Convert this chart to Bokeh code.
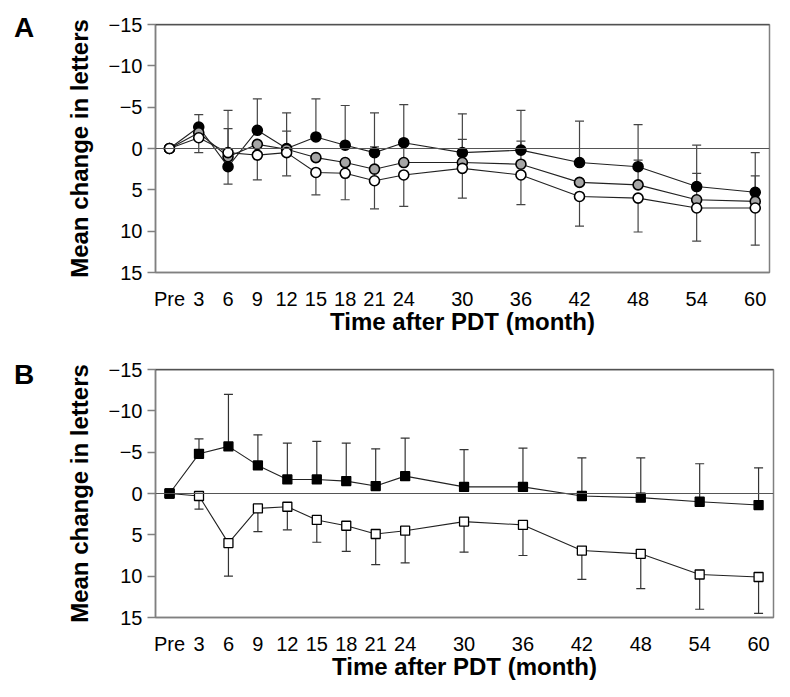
from bokeh.plotting import figure
from bokeh.layouts import column, row
from bokeh.models import FixedTicker, Span, Whisker, TeeHead, ColumnDataSource, Range1d, Div
from bokeh.embed import file_html
from bokeh.resources import INLINE

# ---------------- data ----------------
months = [0, 3, 6, 9, 12, 15, 18, 21, 24, 30, 36, 42, 48, 54, 60]
month_labels = ["Pre", "3", "6", "9", "12", "15", "18", "21", "24",
                "30", "36", "42", "48", "54", "60"]
y_ticks = [-15, -10, -5, 0, 5, 10, 15]
y_tick_labels = ["\u221215", "\u221210", "\u22125", "0", "5", "10", "15"]

# Panel A (three groups: black, grey, white circles)
A_black = [0, -2.6, 2.2, -2.2, 0.0, -1.4, -0.4, 0.5, -0.7, 0.5, 0.2, 1.7, 2.2, 4.6, 5.3]
A_grey = [0, -1.9, 1.0, -0.5, 0.1, 1.1, 1.7, 2.5, 1.7, 1.7, 1.9, 4.1, 4.4, 6.2, 6.4]
A_white = [0, -1.3, 0.5, 0.8, 0.5, 2.9, 3.0, 3.9, 3.2, 2.4, 3.2, 5.8, 6.0, 7.2, 7.2]
A_black_err = [None, -4.1, -4.6, -6.0, -4.3, -6.0, -5.2, -4.3, -5.3, -4.2, -4.6, -3.3, -2.9, -0.4, 0.5]
A_grey_err = [None, None, -2.4, None, -2.1, None, None, -0.2, -1.0, -1.1, -0.9, None, 1.4, 3.0, 3.3]
A_white_err = [None, 0.5, 4.3, 3.8, 3.3, 5.6, 6.2, 7.3, 7.0, 6.0, 6.8, 9.4, 10.1, 11.2, 11.7]

# Panel B (two groups: black and white squares)
B_black = [0, -4.8, -5.7, -3.4, -1.7, -1.7, -1.5, -0.9, -2.1, -0.8, -0.8, 0.3, 0.5, 1.0, 1.4]
B_black_err = [None, -6.6, -12.0, -7.1, -6.1, -6.3, -6.1, -5.4, -6.7, -5.3, -5.5, -4.3, -4.3, -3.6, -3.1]
B_white = [0, 0.3, 6.0, 1.8, 1.6, 3.2, 3.9, 4.9, 4.5, 3.4, 3.8, 6.9, 7.3, 9.8, 10.1]
B_white_err = [None, 1.9, 10.0, 4.6, 4.4, 5.9, 7.0, 8.6, 8.4, 7.1, 7.5, 10.4, 11.5, 14.0, 14.5]

FONT = "Liberation Sans"
AX_GREY = "#808080"
DIV_W = 40
PAD_LEFT = 9


def make_panel(frame_w, x_end, b_top, b_bottom, b_right):
    p = figure(frame_width=frame_w, frame_height=248,
               min_border_left=154 - DIV_W, min_border_right=b_right,
               min_border_top=b_top, min_border_bottom=b_bottom,
               x_range=Range1d(-1.43, x_end), y_range=Range1d(15, -15),
               output_backend="svg", toolbar_location=None,
               background_fill_color="white", border_fill_color="white")
    p.grid.visible = False
    p.outline_line_color = AX_GREY
    p.outline_line_width = 1.5

    xa = p.xaxis[0]
    xa.ticker = FixedTicker(ticks=months)
    xa.major_label_overrides = {m: l for m, l in zip(months, month_labels)}
    xa.major_tick_line_color = None
    xa.minor_tick_line_color = None
    xa.major_tick_out = 0
    xa.major_tick_in = 0
    xa.axis_line_color = AX_GREY
    xa.axis_line_width = 1.5
    xa.major_label_text_font = FONT
    xa.major_label_text_font_size = "20px"
    xa.major_label_text_color = "black"
    xa.major_label_standoff = 15
    xa.axis_label = "Time after PDT (month)"
    xa.axis_label_text_font = FONT
    xa.axis_label_text_font_style = "bold"
    xa.axis_label_text_font_size = "24px"
    xa.axis_label_text_color = "black"
    xa.axis_label_standoff = -5

    ya = p.yaxis[0]
    ya.ticker = FixedTicker(ticks=y_ticks)
    ya.major_label_overrides = {t: l for t, l in zip(y_ticks, y_tick_labels)}
    ya.minor_tick_line_color = None
    ya.major_tick_out = 8
    ya.major_tick_in = 0
    ya.major_tick_line_color = AX_GREY
    ya.major_tick_line_width = 1.5
    ya.axis_line_color = AX_GREY
    ya.axis_line_width = 1.5
    ya.major_label_text_font = FONT
    ya.major_label_text_font_size = "20px"
    ya.major_label_text_color = "black"
    ya.major_label_standoff = 5
    ya.axis_label = "Mean change in letters"
    ya.axis_label_text_font = FONT
    ya.axis_label_text_font_style = "bold"
    ya.axis_label_text_font_size = "24px"
    ya.axis_label_text_color = "black"
    ya.axis_label_standoff = 13

    p.add_layout(Span(location=0, dimension="width", line_color="#555555", line_width=1.2))
    p.add_layout(Span(location=-15, dimension="width", line_color="#222222", line_width=1.5))
    return p


def letter_div(letter, pad_top):
    return Div(text=letter, width=DIV_W - PAD_LEFT, height=40,
               styles={"font-family": FONT, "font-size": "28px", "font-weight": "bold",
                       "padding-left": f"{PAD_LEFT}px", "padding-top": f"{pad_top}px",
                       "color": "black"})


def add_whiskers(p, means, caps, color):
    xs_up, lo_up, hi_up = [], [], []   # cap numerically larger than mean
    xs_dn, lo_dn, hi_dn = [], [], []   # cap numerically smaller than mean
    for m, v, c in zip(months, means, caps):
        if c is None:
            continue
        if c > v:
            xs_up.append(m); lo_up.append(v); hi_up.append(c)
        else:
            xs_dn.append(m); lo_dn.append(c); hi_dn.append(v)
    if xs_up:
        s = ColumnDataSource(dict(x=xs_up, lower=lo_up, upper=hi_up))
        p.add_layout(Whisker(source=s, base="x", lower="lower", upper="upper",
                             line_color=color, line_width=1.2, lower_head=None,
                             upper_head=TeeHead(size=9, line_color=color, line_width=1.2)))
    if xs_dn:
        s = ColumnDataSource(dict(x=xs_dn, lower=lo_dn, upper=hi_dn))
        p.add_layout(Whisker(source=s, base="x", lower="lower", upper="upper",
                             line_color=color, line_width=1.2, upper_head=None,
                             lower_head=TeeHead(size=9, line_color=color, line_width=1.2)))


# ---------------- Panel A ----------------
hA_top, hA_bot = 24, 73
pA = make_panel(614, 61.46, hA_top, hA_bot, 12)
add_whiskers(pA, A_black, A_black_err, "#444444")
add_whiskers(pA, A_grey, A_grey_err, "#444444")
add_whiskers(pA, A_white, A_white_err, "#444444")
seriesA = [(A_black, "black"), (A_grey, "#a6a6a6"), (A_white, "white")]
for ys, fill in seriesA:
    pA.line(months, ys, line_color="#222222", line_width=1.1)
for ys, fill in seriesA:
    pA.scatter(months, ys, marker="circle", size=10, fill_color=fill,
               line_color="black", line_width=1.6)

# ---------------- Panel B ----------------
hB_top, hB_bot = 24, 72
pB = make_panel(618, 61.52, hB_top, hB_bot, 8)
add_whiskers(pB, B_black, B_black_err, "#333333")
add_whiskers(pB, B_white, B_white_err, "#333333")
for ys in [B_black, B_white]:
    pB.line(months, ys, line_color="#222222", line_width=1.1)
pB.scatter(months, B_white, marker="square", size=9, fill_color="white",
           line_color="black", line_width=1.3)
pB.scatter(months, B_black, marker="square", size=9, fill_color="black",
           line_color="black", line_width=1.3)

divA = letter_div("A", 3)
divB = letter_div("B", 5)

layout = column(row(divA, pA, spacing=0), row(divB, pB, spacing=0), spacing=0)
open("out.html", "w").write(file_html(layout, INLINE))
